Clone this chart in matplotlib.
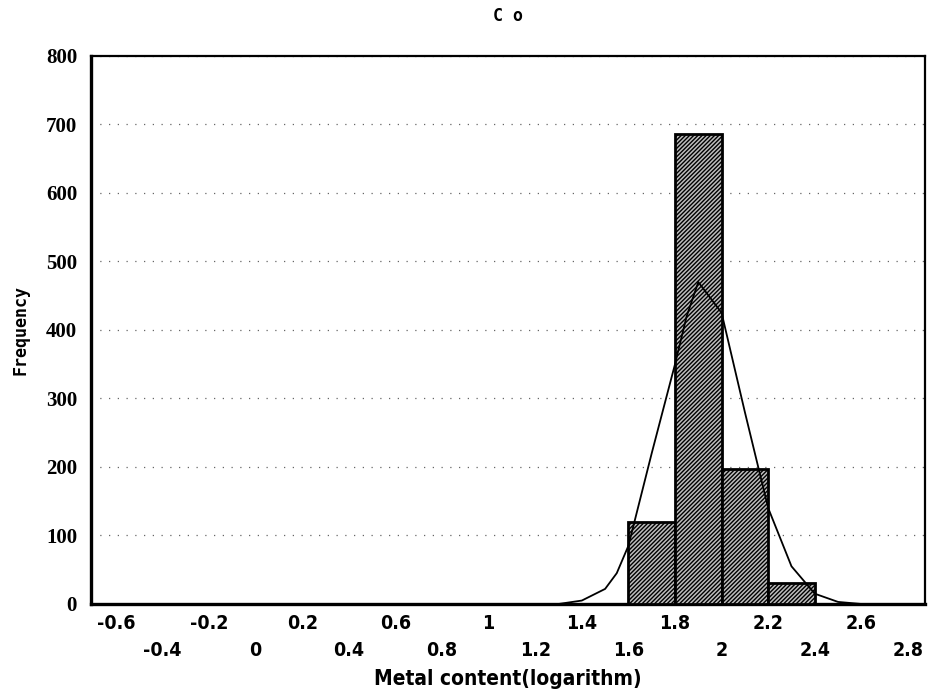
import numpy as np
import matplotlib.pyplot as plt

# histogram bins (log metal content) and counts
bin_left = [1.6, 1.8, 2.0, 2.2]
bin_width = 0.2
counts = [120, 686, 197, 30]

# fitted normal curve
curve_x = [-0.7, 1.3, 1.4, 1.5, 1.55, 1.6, 1.7, 1.8, 1.85, 1.9, 2.0, 2.1,
           2.2, 2.3, 2.4, 2.5, 2.6, 2.87]
curve_y = [0, 0, 5, 22, 45, 85, 220, 350, 420, 470, 425, 280,
           140, 55, 15, 3, 0, 0]

upper_ticks = [-0.6, -0.2, 0.2, 0.6, 1.0, 1.4, 1.8, 2.2, 2.6]
upper_labels = ["-0.6", "-0.2", "0.2", "0.6", "1", "1.4", "1.8", "2.2", "2.6"]
lower_ticks = [-0.4, 0.0, 0.4, 0.8, 1.2, 1.6, 2.0, 2.4, 2.8]
lower_labels = ["-0.4", "0", "0.4", "0.8", "1.2", "1.6", "2", "2.4", "2.8"]
y_ticks = [0, 100, 200, 300, 400, 500, 600, 700, 800]

plt.rcParams['hatch.linewidth'] = 1.0
plt.rcParams['hatch.color'] = '#1a1a1a'

fig = plt.figure(figsize=(9.3, 6.98), dpi=100)
ax = fig.add_axes([0.0978, 0.1347, 0.8968, 0.7851])

ax.bar(bin_left, counts, width=bin_width, align='edge', color='#bdbdbd',
       edgecolor='black', linewidth=2.0, hatch='////////', zorder=3)
ax.plot(curve_x, curve_y, color='black', linewidth=1.3, zorder=4)

ax.set_xlim(-0.707, 2.873)
ax.set_ylim(0, 800)

ax.set_yticks(y_ticks)
ax.set_yticklabels([str(v) for v in y_ticks], fontfamily='Liberation Serif',
                   fontweight='bold', fontsize=15)
ax.yaxis.grid(True, linestyle=(0, (1, 6)), color='#666666', linewidth=0.9)
ax.set_axisbelow(True)

ax.set_xticks(upper_ticks)
ax.set_xticklabels(upper_labels, fontfamily='DejaVu Sans', fontstretch='condensed',
                   fontweight='bold', fontsize=14)
ax.set_xticks(lower_ticks, minor=True)
ax.set_xticklabels(lower_labels, minor=True, fontfamily='DejaVu Sans',
                   fontstretch='condensed', fontweight='bold', fontsize=14)
ax.tick_params(axis='x', which='major', length=0, pad=7)
ax.tick_params(axis='x', which='minor', length=0, pad=27)
ax.tick_params(axis='y', length=0, pad=10)

for side in ['left', 'bottom']:
    ax.spines[side].set_linewidth(2.4)
for side in ['top', 'right']:
    ax.spines[side].set_linewidth(1.6)

ax.set_title("C o", fontfamily='DejaVu Sans Mono', fontweight='bold',
             fontsize=12, pad=25)
ax.set_ylabel("Frequency", fontfamily='DejaVu Sans Mono', fontweight='bold',
              fontsize=12, labelpad=12)
ax.set_xlabel("Metal content(logarithm)", fontfamily='DejaVu Sans',
              fontstretch='condensed', fontweight='bold', fontsize=15, labelpad=6)

fig.savefig("out.png", dpi=100)
